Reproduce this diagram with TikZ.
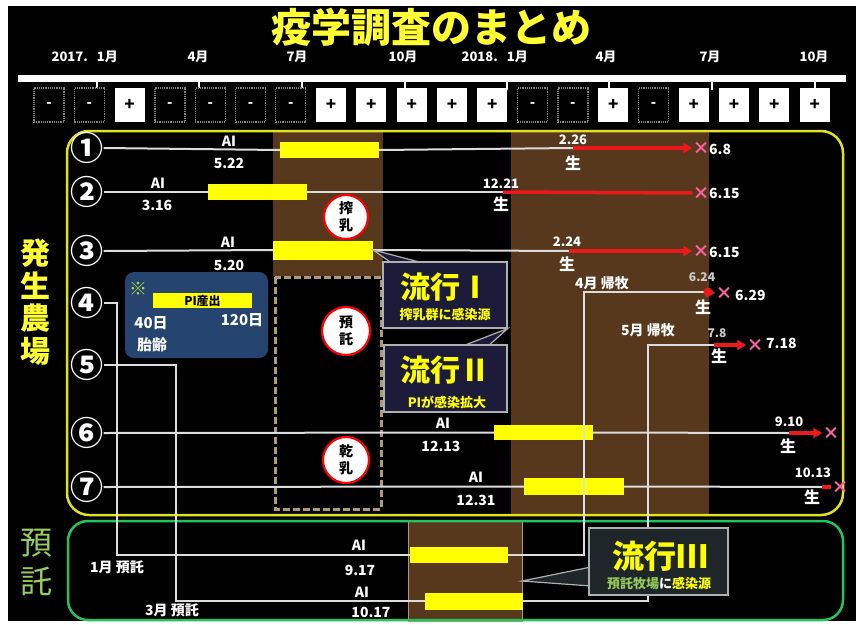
\documentclass[tikz,border=0pt]{standalone}
\usepackage{fontspec}
\setmainfont{Noto Sans CJK JP}
\usetikzlibrary{arrows.meta}
\definecolor{ttl}{RGB}{255,255,50}
\definecolor{brn}{RGB}{88,56,28}
\definecolor{ybox}{RGB}{225,225,30}
\definecolor{gbox}{RGB}{35,195,95}
\definecolor{lgreen}{RGB}{150,205,95}
\definecolor{pinkx}{RGB}{255,95,165}
\definecolor{redl}{RGB}{235,25,25}
\definecolor{cfill}{RGB}{28,28,58}
\definecolor{cfillc}{RGB}{30,38,42}
\definecolor{piblue}{RGB}{38,68,112}
\definecolor{dashc}{RGB}{175,155,115}
\definecolor{linec}{RGB}{220,220,220}
\definecolor{cbord}{RGB}{175,175,175}
\definecolor{yel}{RGB}{255,255,0}
\definecolor{kome}{RGB}{170,220,60}
\definecolor{subg}{RGB}{150,200,90}
\tikzset{
  fs/.style={font=\bfseries\fontsize{#1}{#1}\selectfont},
  lbl/.style={text=white,inner sep=0pt,fs=14},
  mon/.style={text=white,inner sep=0pt,fs=13},
  num/.style={text=white,inner sep=0pt,fs=33},
  xm/.style={text=pinkx,inner sep=0pt,fs=17},
  wl/.style={draw=linec,line width=2},
  rl/.style={draw=redl,line width=3.5},
  rla/.style={rl,-{Triangle[length=9pt,width=10pt]}},
  bar/.style={fill=yel,draw=none,inner sep=0pt},
  pbox/.style={fill=white,minimum width=30,minimum height=34,inner sep=0pt,text=black,fs=17},
  mbox/.style={fill=black,draw=gray,densely dotted,line width=1.2,minimum width=30,minimum height=34,inner sep=0pt,text=white,fs=14},
  badge/.style={circle,fill=white,draw=red,line width=2.2,inner sep=0pt,align=center,text=black,font=\bfseries\fontsize{14}{17}\selectfont},
  cbox/.style={fill=cfill,draw=cbord,line width=1.2,inner sep=0pt,minimum width=124,minimum height=66},
  ctit/.style={text=yel,inner sep=0pt,fs=30},
  csub/.style={text=yel,inner sep=0pt,fs=13}
}
\begin{document}
\begin{tikzpicture}[x=1pt,y=-1pt]
\useasboundingbox (0,0) rectangle (856,624);
\fill[white] (0,0) rectangle (856,624);
\fill[black] (8,6) rectangle (856,621);

% title
\node[text=ttl,fs=40,inner sep=0pt] (title) at (431,27) {疫学調査のまとめ};

% timeline
\coordinate (tlA) at (18,78);
\coordinate (tlB) at (846,78);
\draw[white,line width=7] (tlA) -- (tlB);
\foreach \x/\n in {97/t1,199/t2,302/t3,405/t4,507/t5,609/t6,712/t7,815/t8}{
  \coordinate (\n) at (\x,78);
  \draw[white,line width=1.5] (\n) -- ++(0,12);
}
\node[mon,anchor=east] (m1) at (118,57) {2017.\hspace{9pt}1月};
\node[mon] (m2) at (198,57) {4月};
\node[mon] (m3) at (297,57) {7月};
\node[mon] (m4) at (403,57) {10月};
\node[mon,anchor=east] (m5) at (528,57) {2018.\hspace{9pt}1月};
\node[mon] (m6) at (606,57) {4月};
\node[mon] (m7) at (710,57) {7月};
\node[mon] (m8) at (814,57) {10月};

% test result boxes
\foreach \i in {1,2,4,5,6,7,13,14,16}{
  \node[mbox] (bx\i) at ({49+(\i-1)*40.3},105) {-};
}
\foreach \i in {3,8,9,10,11,12,15,17,18,19,20}{
  \node[pbox] (bx\i) at ({49+(\i-1)*40.3},105) {+};
}

% shaded periods
\fill[brn] (273,131) rectangle (383,276);
\fill[brn] (511,131) rectangle (709,515);
\filldraw[fill=brn,draw=dashc,line width=0.8] (408,521) rectangle (522,621);
\draw[dashc,line width=3,dash pattern=on 7pt off 3pt] (275,277) rectangle (381,509);

% frames
\draw[ybox,line width=2.5,rounded corners=22] (67,131) rectangle (843,515);
\draw[gbox,line width=2.5,rounded corners=20] (68,521) rectangle (843,620);

% side titles
\node[text=ttl,inner sep=0pt,align=center,font=\bfseries\fontsize{30}{32.5}\selectfont] (hs) at (35,302) {発\\生\\農\\場};
\node[text=lgreen,inner sep=0pt,align=center,font=\fontsize{32}{39}\selectfont] (yt) at (36,562) {預\\託};

% row numbers
\node[num] (n1) at (87,148) {①};
\node[num] (n2) at (87,192) {②};
\node[num] (n3) at (87,251) {③};
\node[num] (n4) at (87,303) {④};
\node[num] (n5) at (87,365) {⑤};
\node[num] (n6) at (87,433) {⑥};
\node[num] (n7) at (87,487) {⑦};

% AI bars
\node[bar,minimum width=99,minimum height=16] (b1) at (329.5,150) {};
\node[bar,minimum width=99,minimum height=16] (b2) at (257.5,192) {};
\node[bar,minimum width=100,minimum height=19] (b3) at (323,250) {};
\node[bar,minimum width=99,minimum height=15] (b6) at (543.5,432.5) {};
\node[bar,minimum width=100,minimum height=17] (b7) at (574,486.5) {};
\node[bar,minimum width=98,minimum height=16] (g1) at (459,555) {};
\node[bar,minimum width=98,minimum height=17] (g2) at (474,601) {};

% end markers
\node[xm] (x1) at (701,148) {×};
\node[xm] (x2) at (701,193) {×};
\node[xm] (x3) at (701,251) {×};
\node[xm] (x4) at (724,293) {×};
\node[xm] (x5) at (755,345) {×};
\node[xm] (x6) at (831,433) {×};
\node[xm] (x7) at (840,487) {×};

% coordinates
\coordinate (r1) at (573,148);
\coordinate (r2) at (503,192);
\coordinate (r3) at (569,251);
\coordinate (k4) at (117,555);
\coordinate (k4b) at (584,292);
\coordinate (e4) at (704,292);
\coordinate (k5) at (176,601);
\coordinate (k5b) at (648,345);
\coordinate (e5) at (714,345);
\coordinate (r6) at (789,433);
\coordinate (r7) at (822,487);
\coordinate (t3) at (522,581);

% row 1
\draw[wl] (n1.east) -- (b1.west);
\draw[wl] (b1.east) -- (r1);
\draw[rla] (r1) -- (x1.west);
% row 2
\draw[wl] (n2.east) -- (b2.west);
\draw[wl] (b2.east) -- (r2);
\draw[rl] (r2) -- (x2.west);
% row 3
\draw[wl] (n3.east) -- (b3.west);
\draw[wl] (b3.east) -- (r3);
\draw[rla] (r3) -- (x3.west);
% row 4
\draw[wl] (n4.east) -| (k4) -- (g1.west);
\draw[wl] (g1.east) -| (k4b) -- (e4);
\fill[redl] (708,292) circle (4.5);
\draw[rla] (e4) -- (x4.west);
% row 5
\draw[wl] (n5.east) -| (k5) -- (g2.west);
\draw[wl] (g2.east) -| (k5b) -- (e5);
\draw[rla] (e5) -- (x5.west);
% row 6
\draw[wl] (n6.east) -- (b6.west);
\draw[wl] (b6.east) -- (r6);
\draw[rla] (r6) -- (x6.west);
% row 7
\draw[wl] (n7.east) -- (b7.west);
\draw[wl] (b7.east) -- (r7);
\draw[rl] (r7) -- (x7.west);

% labels row 1
\node[lbl] (ai1) at (229,141) {AI};
\node[lbl] (d1) at (229,163) {5.22};
\node[lbl,fs=13] (p1) at (573,140) {2.26};
\node[lbl,fs=16] (s1) at (573,163) {生};
\node[lbl,anchor=west] (e1) at (709,149) {6.8};
% row 2
\node[lbl] (ai2) at (158,183) {AI};
\node[lbl] (d2) at (157,205) {3.16};
\node[lbl,fs=13] (p2) at (501,184) {12.21};
\node[lbl,fs=16] (s2) at (501,204) {生};
\node[lbl,anchor=west] (e2) at (709,193) {6.15};
% row 3
\node[lbl] (ai3) at (228,242) {AI};
\node[lbl] (d3) at (229,265) {5.20};
\node[lbl,fs=13] (p3) at (567,242) {2.24};
\node[lbl,fs=16] (s3) at (567,264) {生};
\node[lbl,anchor=west] (e3) at (709,252) {6.15};
% row 4
\node[lbl,fs=14] (h4) at (602,283) {4月 帰牧};
\node[lbl,fs=12,text=white!80!black] (p4) at (702,277) {6.24};
\node[lbl,fs=16] (s4) at (703,307) {生};
\node[lbl,anchor=west] (e4t) at (735,295) {6.29};
% row 5
\node[lbl,fs=14] (h5) at (648,330) {5月 帰牧};
\node[lbl,fs=12,text=white!80!black] (p5) at (717,333) {7.8};
\node[lbl,fs=16] (s5) at (719,356) {生};
\node[lbl,anchor=west] (e5t) at (766,343) {7.18};
% row 6
\node[lbl] (ai6) at (443,423) {AI};
\node[lbl] (d6) at (441,446) {12.13};
\node[lbl,fs=13] (p6) at (789,422) {9.10};
\node[lbl,fs=16] (s6) at (788,446) {生};
% row 7
\node[lbl] (ai7) at (476,477) {AI};
\node[lbl] (d7) at (476,500) {12.31};
\node[lbl,fs=13] (p7) at (813,473) {10.13};
\node[lbl,fs=16] (s7) at (812,497) {生};
% consignment
\node[lbl] (c1l) at (117,567) {1月 預託};
\node[lbl] (c2l) at (172,610) {3月 預託};
\node[lbl] (ai8) at (359,545) {AI};
\node[lbl] (d8) at (360,570) {9.17};
\node[lbl] (ai9) at (362,592) {AI};
\node[lbl] (d9) at (371,612) {10.17};

% badges
\node[badge,minimum size=44] (bd1) at (346,217) {搾\\乳};
\node[badge,minimum size=48] (bd2) at (346,331) {預\\託};
\node[badge,minimum size=46] (bd3) at (346,460) {乾\\乳};

% PI box
\node[fill=piblue,rounded corners=9,minimum width=143,minimum height=86,inner sep=0pt] (pib) at (196.5,315) {};
\node[text=kome,inner sep=0pt,fs=18] (km) at (138,289) {※};
\node[fill=yel,minimum width=99,minimum height=15,inner sep=0pt,text=black,fs=12] (pic) at (202.5,300.5) {PI産出};
\node[lbl,fs=15] (d40) at (151,323) {40日};
\node[lbl,fs=15] (d120) at (242,320) {120日};
\node[lbl,fs=15] (tai) at (152,345) {胎齢};

% callout I
\filldraw[fill=cfill,draw=cbord,line width=1.2] (393,264) -- (b3.east) -- (427,264);
\node[cbox] (c1) at (445,295) {};
\node[ctit] (c1t) at (445,287) {流行Ⅰ};
\node[csub] (c1s) at (445,315) {搾乳群に感染源};
% callout II
\filldraw[fill=cfill,draw=cbord,line width=1.2] (460,347) -- (c1.south east) -- (487,347);
\node[cbox,minimum width=123,minimum height=67] (c2) at (445.5,378.5) {};
\node[ctit] (c2t) at (445,370) {流行Ⅱ};
\node[csub] (c2s) at (447,402) {PIが感染拡大};
% callout III
\filldraw[fill=cfillc,draw=cbord,line width=1.2] (591,567) -- (t3) -- (591,586);
\node[cbox,fill=cfillc,minimum width=139,minimum height=67] (c3) at (658.5,561.5) {};
\node[ctit,fs=32] (c3t) at (660,556) {流行Ⅲ};
\node[csub] (c3s) at (659,583) {\textcolor{subg}{預託牧場}\textcolor{white}{に}感染源};
\end{tikzpicture}
\end{document}
